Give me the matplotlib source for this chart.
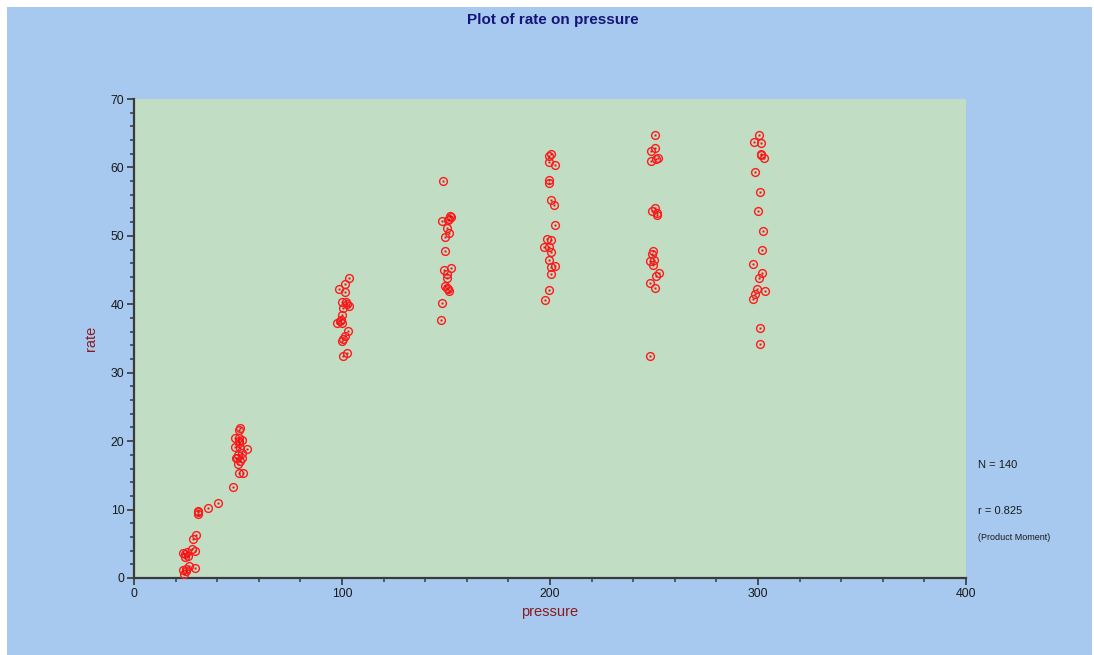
import matplotlib
matplotlib.use("Agg")
import matplotlib.pyplot as plt
from matplotlib.patches import Rectangle
from matplotlib.ticker import MultipleLocator

plt.rcParams['font.family'] = ['Liberation Sans', 'DejaVu Sans']

# pressure / rate observations
pressure = [
    # ~25 and ~50 group
    50.6, 48.6, 50.6, 51.9, 50.5, 48.6, 51.0, 54.5, 51.8, 49.0,
    51.9, 50.8, 50.1, 50.6, 52.3, 47.5, 40.2, 35.7, 30.8, 30.8,
    29.7, 28.5, 29.2, 25.6, 23.7, 26.0, 24.5, 26.4, 29.2, 23.7,
    24.9, 24.2, 24.5, 25.0, 49.3, 50.3, 51.0, 50.2, 30.6, 28.0,
    # ~100
    103.2, 101.4, 98.7, 101.4, 99.9, 102.1, 103.4, 100.5, 99.9, 99.3,
    97.7, 100.0, 102.7, 101.6, 100.0, 100.7, 102.5, 100.6, 102.5, 99.0,
    # ~150
    148.4, 152.3, 151.6, 148.2, 151.1, 150.6, 151.4, 149.4, 149.5, 152.3,
    148.9, 150.6, 150.6, 149.4, 150.6, 151.3, 147.9, 147.7, 151.8, 150.9,
    # ~200
    200.3, 199.5, 199.7, 202.5, 199.7, 199.7, 200.3, 201.9, 202.5, 198.6,
    200.5, 197.0, 199.4, 200.3, 199.5, 200.6, 202.5, 200.3, 199.5, 197.6,
    # ~250
    250.5, 250.5, 248.4, 251.8, 251.0, 248.4, 250.3, 249.2, 251.6, 251.6,
    249.4, 249.0, 250.1, 248.1, 249.5, 252.4, 251.0, 248.2, 250.6, 248.2,
    # ~300
    300.3, 298.1, 301.3, 301.3, 301.4, 302.7, 298.6, 300.8, 300.1, 302.4,
    301.8, 297.6, 301.8, 300.3, 299.7, 303.5, 298.6, 297.4, 300.8, 300.8,
]
rate = [
    21.7, 20.4, 20.4, 20.2, 19.8, 19.2, 19.0, 18.9, 18.3, 17.6,
    17.5, 17.1, 16.6, 15.4, 15.4, 13.3, 10.9, 10.3, 9.8, 9.4,
    6.3, 5.7, 3.9, 3.8, 3.6, 3.2, 3.0, 1.8, 1.5, 1.2,
    1.3, 0.6, 3.5, 1.0, 17.6, 20.0, 21.9, 18.0, 9.6, 4.2,
    43.8, 42.9, 42.3, 41.8, 40.4, 40.4, 39.7, 39.4, 38.4, 37.7,
    37.3, 37.3, 36.1, 35.4, 34.7, 34.9, 32.9, 32.5, 40.0, 37.5,
    58.0, 52.8, 52.5, 52.2, 52.3, 51.1, 50.4, 49.9, 47.8, 45.3,
    45.0, 44.4, 43.8, 42.6, 42.4, 41.9, 40.2, 37.7, 52.9, 42.2,
    61.9, 61.7, 60.8, 60.4, 58.1, 57.7, 55.2, 54.5, 51.6, 49.5,
    49.4, 48.4, 48.4, 47.6, 46.4, 45.4, 45.6, 44.4, 42.1, 40.6,
    64.7, 62.9, 62.4, 61.4, 61.2, 60.9, 54.1, 53.7, 53.4, 53.0,
    47.8, 47.4, 46.5, 46.3, 45.8, 44.6, 44.2, 43.1, 42.4, 32.5,
    64.8, 63.7, 63.6, 62.0, 61.8, 61.4, 59.4, 56.4, 53.7, 50.7,
    48.0, 45.9, 44.6, 43.9, 42.3, 41.9, 41.5, 40.7, 36.5, 34.2,
]

x_ticks = [0, 100, 200, 300, 400]
y_ticks = [0, 10, 20, 30, 40, 50, 60, 70]
n_obs = len(pressure)
r_value = 0.825

W, H = 1094, 655
fig = plt.figure(figsize=(W / 100, H / 100), dpi=100, facecolor='white')

# blue panel behind the chart
panel = Rectangle((7 / W, 0), (1092 - 7) / W, (655 - 7) / H,
                  transform=fig.transFigure, facecolor='#A7C9EF',
                  edgecolor='none', zorder=-10)
fig.patches.append(panel)

ax = fig.add_axes([134 / W, 1 - 578 / H, (966 - 134) / W, (578 - 99) / H])
ax.set_zorder(1)
ax.set_facecolor('#C1DDC4')
ax.set_xlim(0, 400)
ax.set_ylim(0, 70)

ax.plot(pressure, rate, linestyle='none', marker='o', markersize=5.6,
        markerfacecolor='none', markeredgecolor='#FF1A1A', markeredgewidth=1.0,
        zorder=3)
ax.plot(pressure, rate, linestyle='none', marker='s', markersize=1.4,
        markerfacecolor='#E01010', markeredgecolor='none', zorder=4)

for side in ('top', 'right'):
    ax.spines[side].set_visible(False)
for side in ('left', 'bottom'):
    ax.spines[side].set_color('#3A3A3A')
    ax.spines[side].set_linewidth(1.6)

ax.set_xticks(x_ticks)
ax.set_yticks(y_ticks)
ax.xaxis.set_minor_locator(MultipleLocator(20))
ax.yaxis.set_minor_locator(MultipleLocator(2))
ax.tick_params(which='major', direction='out', length=5, width=1.2,
               color='#3A3A3A', labelsize=8.8, labelcolor='#1A1A1A', pad=2)
ax.tick_params(which='minor', direction='out', length=3, width=1.1,
               color='#3A3A3A')

ax.set_xlabel('pressure', fontsize=10.5, color='#8B1A1A', labelpad=4)
ax.set_ylabel('rate', fontsize=10.5, color='#8B1A1A', labelpad=9)

fig.text(553 / W, 1 - 20 / H, 'Plot of rate on pressure', ha='center',
         va='center', fontsize=11, fontweight='bold', color='#14147A')

fig.text(978 / W, 1 - 465 / H, f'N = {n_obs}', ha='left', va='center',
         fontsize=8, color='#1A1A1A')
fig.text(978 / W, 1 - 511 / H, f'r = {r_value:.3f}', ha='left', va='center',
         fontsize=8, color='#1A1A1A')
fig.text(978 / W, 1 - 537 / H, '(Product Moment)', ha='left', va='center',
         fontsize=6.5, color='#1A1A1A')

fig.savefig('out.png', dpi=100, facecolor='white')
